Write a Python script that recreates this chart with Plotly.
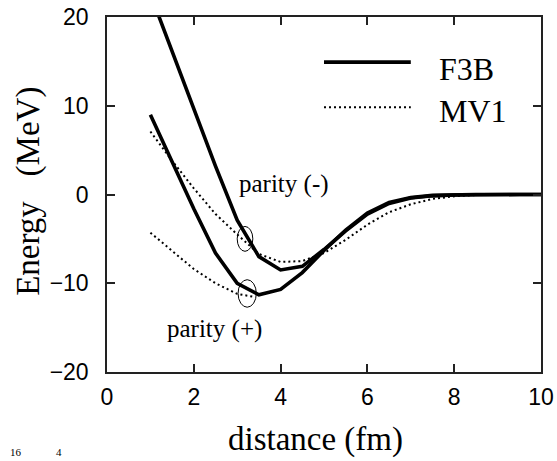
import plotly.graph_objects as go

# ---- data ----
x_solid = [1.0, 1.5, 2.0, 2.5, 3.0, 3.5, 4.0, 4.5, 5.0, 5.5, 6.0, 6.5, 7.0, 7.5, 8.0, 8.5, 9.0, 9.5, 10.0]
f3b_minus = [22.6, 16.2, 9.7, 3.2, -2.9, -7.0, -8.5, -8.1, -6.2, -4.1, -2.2, -1.0, -0.4, -0.15, -0.05, 0, 0, 0, 0]
f3b_plus = [9.0, 3.7, -1.6, -6.6, -10.0, -11.3, -10.7, -8.8, -6.3, -4.0, -2.1, -0.9, -0.35, -0.1, 0, 0, 0, 0, 0]

x_mv1_minus = [1.0, 1.5, 2.0, 2.5, 3.0, 3.5, 4.0, 4.5, 5.0, 5.5, 6.0, 6.5, 7.0, 7.5, 8.0, 8.5, 9.0, 9.5, 10.0]
mv1_minus = [7.1, 3.8, 0.7, -2.2, -4.5, -6.7, -7.6, -7.5, -6.6, -5.1, -3.4, -2.0, -1.1, -0.5, -0.2, -0.05, 0, 0, 0]
x_mv1_plus = [1.0, 1.5, 2.0, 2.5, 3.0, 3.35]
mv1_plus = [-4.3, -6.4, -8.4, -10.0, -11.2, -11.5]

x_ticks = [0, 2, 4, 6, 8, 10]
y_ticks = [-20, -10, 0, 10, 20]

SERIF = "Liberation Serif, Times New Roman, serif"
SANS = "Liberation Sans, Arial, sans-serif"

solid = dict(color="black", width=3.6)
dotted = dict(color="black", width=2, dash="2px,3px")

fig = go.Figure()
fig.add_trace(go.Scatter(x=x_solid, y=f3b_minus, mode="lines", line=solid, name="F3B"))
fig.add_trace(go.Scatter(x=x_solid, y=f3b_plus, mode="lines", line=solid, showlegend=False))
fig.add_trace(go.Scatter(x=x_mv1_minus, y=mv1_minus, mode="lines", line=dotted, name="MV1"))
fig.add_trace(go.Scatter(x=x_mv1_plus, y=mv1_plus, mode="lines", line=dotted, showlegend=False))

axis_common = dict(
    automargin=False,
    showgrid=False, zeroline=False, showline=True, linecolor="#222", linewidth=1.5,
    mirror="ticks", ticks="inside", ticklen=8, tickcolor="#222", tickwidth=1.5,
    tickfont=dict(family=SANS, size=23, color="black"),
)
fig.update_xaxes(range=[0, 10], tickvals=x_ticks, ticklabelstandoff=4, **axis_common)
fig.update_yaxes(range=[-20, 20], tickvals=y_ticks, ticklabelstandoff=12, **axis_common)

shapes = [
    # legend samples
    dict(type="line", xref="paper", yref="paper", x0=0.5, x1=0.70, y0=0.873, y1=0.873,
         line=dict(color="black", width=3.6)),
    dict(type="line", xref="paper", yref="paper", x0=0.5, x1=0.70, y0=0.746, y1=0.746,
         line=dict(color="black", width=2, dash="2px,3px")),
    # loop marks
    dict(type="circle", xref="x", yref="y", x0=3.0, x1=3.36, y0=-6.4, y1=-3.6,
         line=dict(color="black", width=1)),
    dict(type="circle", xref="x", yref="y", x0=3.02, x1=3.44, y0=-12.7, y1=-9.6,
         line=dict(color="black", width=1)),
]

annotations = [
    dict(text="F3B", xref="paper", yref="paper", x=0.76, y=0.854, xanchor="left", yanchor="middle",
         showarrow=False, font=dict(family=SERIF, size=32, color="black")),
    dict(text="MV1", xref="paper", yref="paper", x=0.76, y=0.735, xanchor="left", yanchor="middle",
         showarrow=False, font=dict(family=SERIF, size=32, color="black")),
    dict(text="parity (-)", xref="x", yref="y", x=3.0, y=1.2, xanchor="left", yanchor="middle",
         showarrow=False, font=dict(family=SERIF, size=25, color="black")),
    dict(text="parity (+)", xref="x", yref="y", x=1.33, y=-15.2, xanchor="left", yanchor="middle",
         showarrow=False, font=dict(family=SERIF, size=25, color="black")),
    dict(text="distance (fm)", xref="paper", yref="paper", x=0.48, y=-0.19, xanchor="center", yanchor="middle",
         showarrow=False, font=dict(family=SERIF, size=33, color="black")),
    dict(text="Energy   (MeV)", xref="paper", yref="paper", x=-0.18, y=0.51, xanchor="center", yanchor="middle",
         textangle=-90, showarrow=False, font=dict(family=SERIF, size=33, color="black")),
    dict(text="16", xref="paper", yref="paper", x=-0.228, y=-0.247, xanchor="left", yanchor="bottom",
         showarrow=False, font=dict(family=SERIF, size=11, color="black")),
    dict(text="4", xref="paper", yref="paper", x=-0.122, y=-0.247, xanchor="left", yanchor="bottom",
         showarrow=False, font=dict(family=SERIF, size=11, color="black")),
]

fig.update_layout(
    width=557, height=461,
    margin=dict(l=107, r=16, t=17, b=89),
    paper_bgcolor="white", plot_bgcolor="white",
    showlegend=False,
    shapes=shapes, annotations=annotations,
)

fig.write_html("out.html")
